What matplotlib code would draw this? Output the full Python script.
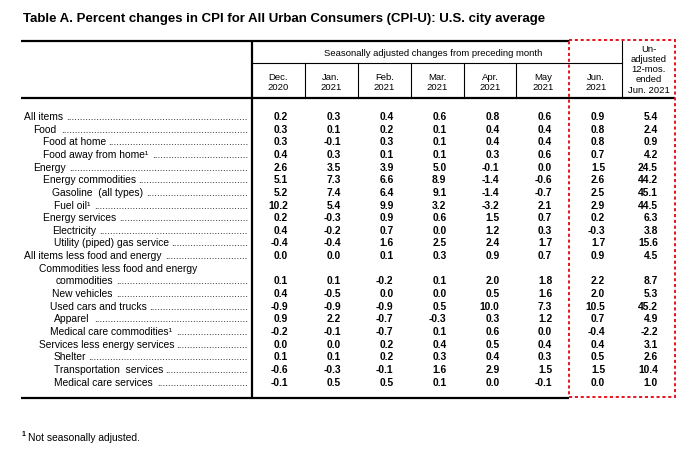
import matplotlib
matplotlib.use("Agg")
import matplotlib.pyplot as plt
from matplotlib.patches import Rectangle

# ---------------- data ----------------
title = "Table A. Percent changes in CPI for All Urban Consumers (CPI-U): U.S. city average"
group_header = "Seasonally adjusted changes from preceding month"
col_headers = [["Dec.", "2020"], ["Jan.", "2021"], ["Feb.", "2021"], ["Mar.", "2021"],
               ["Apr.", "2021"], ["May", "2021"], ["Jun.", "2021"],
               ["Un-", "adjusted", "12-mos.", "ended", "Jun. 2021"]]

labels = ["All items", "Food", "Food at home", "Food away from home\u00b9", "Energy",
          "Energy commodities", "Gasoline  (all types)", "Fuel oil\u00b9", "Energy services",
          "Electricity", "Utility (piped) gas service", "All items less food and energy",
          "Commodities less food and energy", "commodities", "New vehicles",
          "Used cars and trucks", "Apparel", "Medical care commodities\u00b9",
          "Services less energy services", "Shelter", "Transportation  services",
          "Medical care services"]
indent_level = [0, 1, 2, 2, 1, 2, 3, 3.2, 2, 3, 3.2, 0, 1.6, 3.4, 3, 2.8, 3.2, 2.8,
                1.6, 3.2, 3.2, 3.2]
has_leader = [True] * 12 + [False] + [True] * 9

dec20 = [0.2, 0.3, 0.3, 0.4, 2.6, 5.1, 5.2, 10.2, 0.2, 0.4, -0.4, 0.0, None,
         0.1, 0.4, -0.9, 0.9, -0.2, 0.0, 0.1, -0.6, -0.1]
jan21 = [0.3, 0.1, -0.1, 0.3, 3.5, 7.3, 7.4, 5.4, -0.3, -0.2, -0.4, 0.0, None,
         0.1, -0.5, -0.9, 2.2, -0.1, 0.0, 0.1, -0.3, 0.5]
feb21 = [0.4, 0.2, 0.3, 0.1, 3.9, 6.6, 6.4, 9.9, 0.9, 0.7, 1.6, 0.1, None,
         -0.2, 0.0, -0.9, -0.7, -0.7, 0.2, 0.2, -0.1, 0.5]
mar21 = [0.6, 0.1, 0.1, 0.1, 5.0, 8.9, 9.1, 3.2, 0.6, 0.0, 2.5, 0.3, None,
         0.1, 0.0, 0.5, -0.3, 0.1, 0.4, 0.3, 1.6, 0.1]
apr21 = [0.8, 0.4, 0.4, 0.3, -0.1, -1.4, -1.4, -3.2, 1.5, 1.2, 2.4, 0.9, None,
         2.0, 0.5, 10.0, 0.3, 0.6, 0.5, 0.4, 2.9, 0.0]
may21 = [0.6, 0.4, 0.4, 0.6, 0.0, -0.6, -0.7, 2.1, 0.7, 0.3, 1.7, 0.7, None,
         1.8, 1.6, 7.3, 1.2, 0.0, 0.4, 0.3, 1.5, -0.1]
jun21 = [0.9, 0.8, 0.8, 0.7, 1.5, 2.6, 2.5, 2.9, 0.2, -0.3, 1.7, 0.9, None,
         2.2, 2.0, 10.5, 0.7, -0.4, 0.4, 0.5, 1.5, 0.0]
unadj_12mo = [5.4, 2.4, 0.9, 4.2, 24.5, 44.2, 45.1, 44.5, 6.3, 3.8, 15.6, 4.5, None,
              8.7, 5.3, 45.2, 4.9, -2.2, 3.1, 2.6, 10.4, 1.0]
columns = [dec20, jan21, feb21, mar21, apr21, may21, jun21, unadj_12mo]
footnote = "Not seasonally adjusted."

# ---------------- layout ----------------
W, H = 678, 452
FONT = "Liberation Sans"
FS = 7.4
HFS = 6.8
fig = plt.figure(figsize=(W / 100, H / 100), dpi=100)
ax = fig.add_axes([0, 0, 1, 1])
ax.set_xlim(0, W)
ax.set_ylim(H, 0)
ax.axis("off")
renderer = fig.canvas.get_renderer()

left = 21
stub_right = 252
col_edges = [252 + i * (675 - 252) / 8 for i in range(9)]
top_y, sub_y, head_bot = 42, 64, 99
row0, dy = 117, 12.65
bot_y = row0 + dy * (len(labels) - 1) + 16

# title
ax.text(23, 19, title, fontsize=9.5, fontweight="bold", family=FONT, va="center", ha="left")

# rules
thick, thin = 1.6, 0.8
ax.plot([left, col_edges[6]], [top_y, top_y], color="black", lw=thick, solid_capstyle="butt")
ax.plot([left, col_edges[8]], [head_bot, head_bot], color="black", lw=thick, solid_capstyle="butt")
ax.plot([left, col_edges[6]], [bot_y, bot_y], color="black", lw=thick, solid_capstyle="butt")
ax.plot([stub_right, stub_right], [top_y, bot_y], color="black", lw=thick, solid_capstyle="butt")
ax.plot([col_edges[0], col_edges[7]], [sub_y, sub_y], color="black", lw=thin)
for e in col_edges[1:6]:
    ax.plot([e, e], [sub_y, head_bot], color="black", lw=thin)
ax.plot([col_edges[7], col_edges[7]], [top_y, head_bot], color="black", lw=thin)

# dashed highlight box
ax.add_patch(Rectangle((col_edges[6], top_y - 1), col_edges[8] - col_edges[6], bot_y - top_y,
                       fill=False, edgecolor="#e8141e", lw=1.4, linestyle=(0, (1.6, 1.4)), zorder=5))

# headers
ax.text((col_edges[0] + col_edges[7]) / 2 - 4, 53, group_header, fontsize=HFS, family=FONT,
        ha="center", va="center")
for j, hdr in enumerate(col_headers):
    cx = (col_edges[j] + col_edges[j + 1]) / 2
    if len(hdr) == 2:
        ys = [77.5, 88]
    else:
        ys = [49, 59, 69.5, 80, 90.5]
    for line, yy in zip(hdr, ys):
        ax.text(cx, yy, line, fontsize=HFS, family=FONT, ha="center", va="center")

# stub labels with dot leaders
dot = ax.text(0, 0, ".", fontsize=FS, family=FONT)
dot_w = dot.get_window_extent(renderer).width
dot.remove()
for i, lab in enumerate(labels):
    y = row0 + i * dy
    x = 24 + indent_level[i] * 9.3
    t = ax.text(x, y, lab, fontsize=FS, family=FONT, ha="left", va="center")
    if has_leader[i]:
        x_end = t.get_window_extent(renderer).x1
        n = int((stub_right - 4 - x_end - 2) / dot_w)
        if n > 0:
            ax.text(stub_right - 4, y, "." * n, fontsize=FS, family=FONT, ha="right", va="center")

# values
for j, col in enumerate(columns):
    xr = col_edges[j + 1] - 17
    for i, v in enumerate(col):
        if v is None:
            continue
        ax.text(xr, row0 + i * dy, f"{v:.1f}", fontsize=FS, family=FONT,
                ha="right", va="center", fontweight="bold")

# footnote
ax.text(22, 435, "1", fontsize=5, family=FONT, fontweight="bold", ha="left", va="center")
ax.text(28, 438, footnote, fontsize=FS, family=FONT, ha="left", va="center")

fig.savefig("out.png", dpi=100)
